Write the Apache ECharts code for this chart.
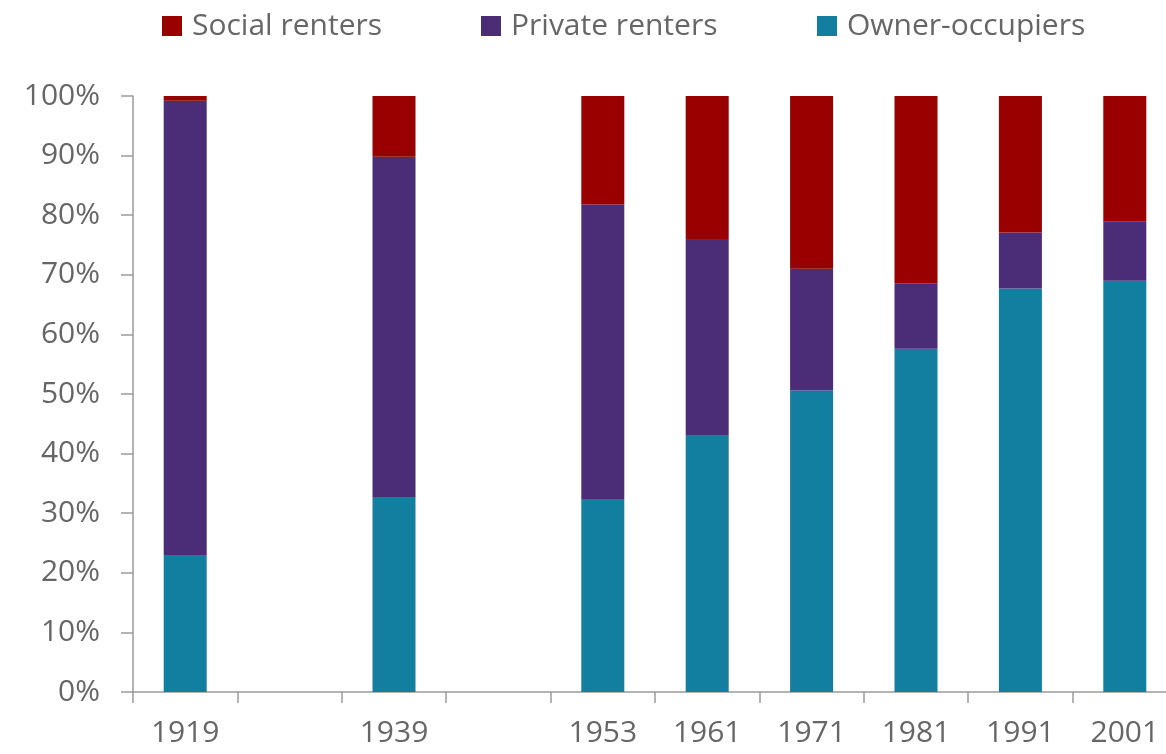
<!DOCTYPE html>
<html>
<head>
<meta charset="utf-8">
<script src="https://cdn.jsdelivr.net/npm/echarts@6/dist/echarts.min.js"></script>
<style>
    html, body { margin: 0; padding: 0; background: #fff; }
    #chart { width: 1166px; height: 754px; }
</style>
</head>
<body>
<div id="chart"></div>
<script>
// data - gaps in the time line are empty category slots
var years = ['1919', '', '1939', '', '1953', '1961', '1971', '1981', '1991', '2001'];
var owners = [23, '-', 32.6, '-', 32.4, 43, 50.6, 57.6, 67.7, 69];
var privateRent = [76.2, '-', 57.2, '-', 49.4, 33, 20.4, 11, 9.4, 10];
var socialRent = [0.8, '-', 10.2, '-', 18.2, 24, 29, 31.4, 22.9, 21];

var textGrey = '#666666';
var axisGrey = '#9a9a9a';
var fontName = 'Open Sans';

function legendAt(name, left) {
    return {
        data: [name],
        left: left,
        top: 6,
        itemWidth: 20,
        itemHeight: 20,
        itemGap: 0,
        icon: 'rect',
        textStyle: {
            color: textGrey,
            fontSize: 30,
            fontFamily: fontName,
            padding: [0, 0, 0, 5]
        }
    };
}

var chart = echarts.init(document.getElementById('chart'));
var option = {
    animation: false,
    color: ['#990000', '#4b2c77', '#137fa0'],
    legend: [
        legendAt('Social renters', 157),
        legendAt('Private renters', 476),
        legendAt('Owner-occupiers', 812)
    ],
    grid: {
        left: 133,
        width: 1044,
        top: 96,
        height: 596,
        containLabel: false,
        outerBoundsMode: 'none'
    },
    xAxis: {
        type: 'category',
        data: years,
        axisLine: { lineStyle: { color: axisGrey, width: 1.5 } },
        axisTick: { show: true, length: 11, lineStyle: { color: axisGrey, width: 1.5 } },
        axisLabel: {
            color: textGrey,
            fontSize: 30,
            fontFamily: fontName,
            margin: 26,
            interval: 0
        }
    },
    yAxis: {
        type: 'value',
        min: 0,
        max: 100,
        interval: 10,
        splitLine: { show: false },
        axisLine: { show: true, lineStyle: { color: axisGrey, width: 1.5 } },
        axisTick: { show: true, length: 12, lineStyle: { color: axisGrey, width: 1.5 } },
        axisLabel: {
            color: textGrey,
            fontSize: 30,
            fontFamily: fontName,
            margin: 33,
            formatter: '{value}%'
        }
    },
    series: [{
        name: 'Owner-occupiers',
        type: 'bar',
        stack: 'all',
        barWidth: 43,
        itemStyle: { color: '#137fa0' },
        data: owners
    }, {
        name: 'Private renters',
        type: 'bar',
        stack: 'all',
        barWidth: 43,
        itemStyle: { color: '#4b2c77' },
        data: privateRent
    }, {
        name: 'Social renters',
        type: 'bar',
        stack: 'all',
        barWidth: 43,
        itemStyle: { color: '#990000' },
        data: socialRent
    }]
};
chart.setOption(option);
</script>
</body>
</html>
